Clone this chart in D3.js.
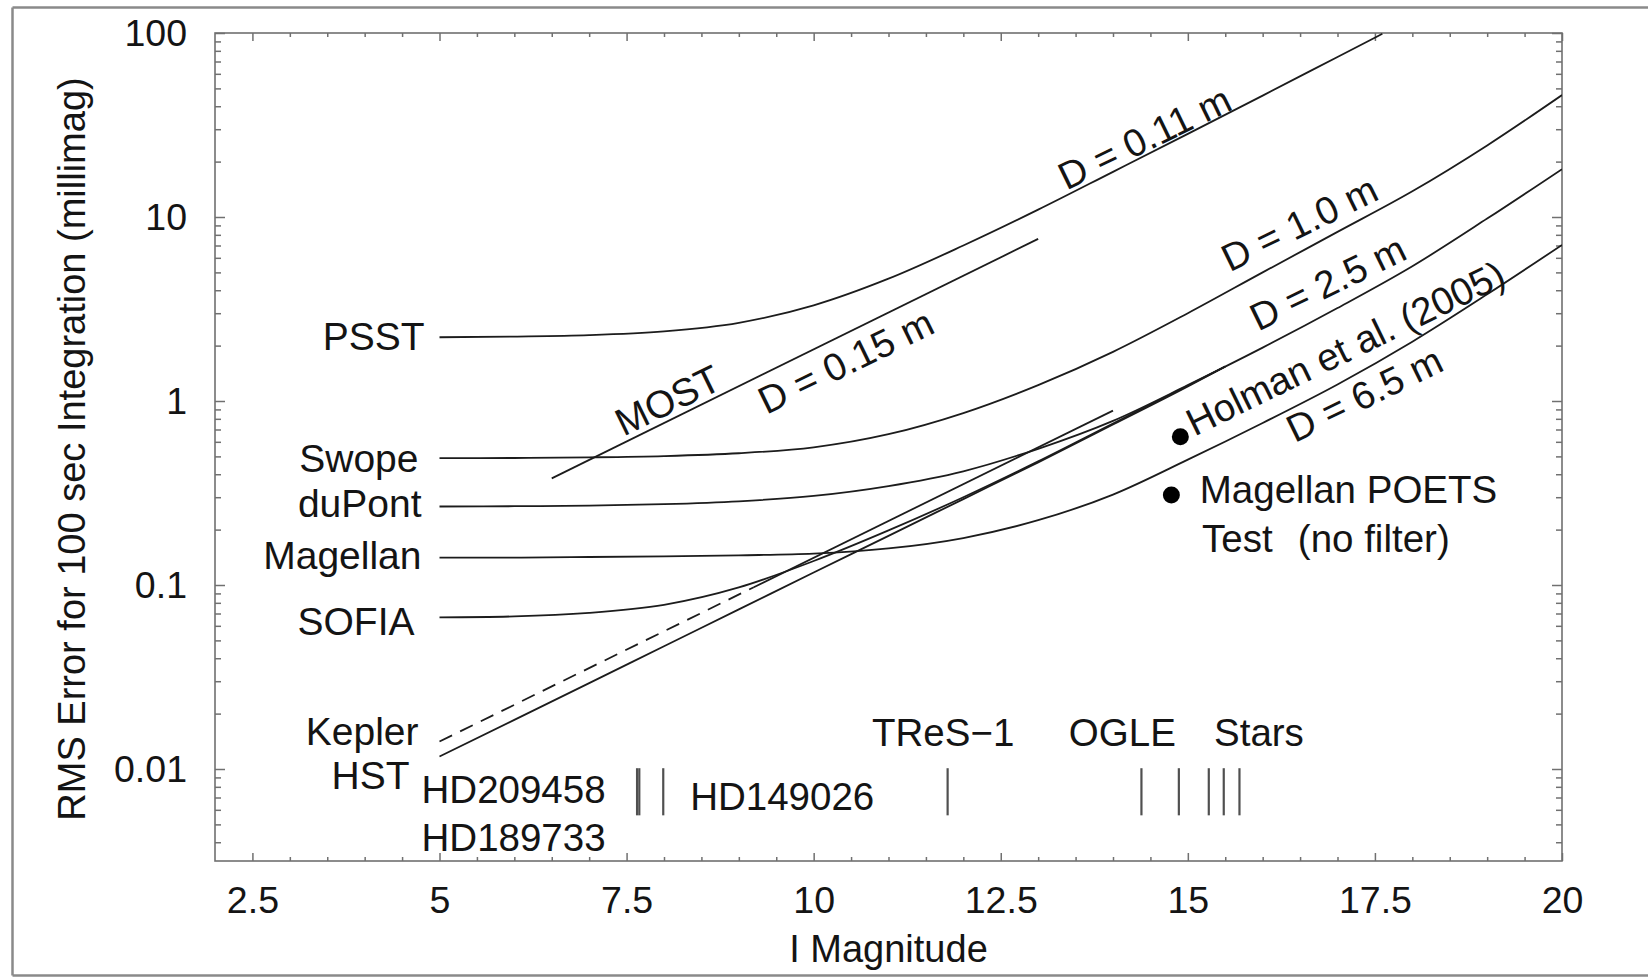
<!DOCTYPE html>
<html lang="en">
<head>
<meta charset="UTF-8">
<title>RMS Error vs I Magnitude</title>
<script src="https://cdn.jsdelivr.net/npm/d3@7"></script>
<style>
  body { margin: 0; background: #fff; }
  svg { display: block; font-family: "Liberation Sans", Arial, Helvetica, sans-serif; }
</style>
</head>
<body>
<svg id="chart"></svg>
<script>
// values: I magnitude -> RMS error (millimag)
var magGrid = [5, 6, 7, 8, 9, 10, 11, 12, 13, 14, 15, 16, 17, 18, 19, 20];

var psstMag = [5, 6, 7, 8, 9, 10, 11, 12, 13, 14, 15, 16, 17, 17.6];
var psstRms = [2.22, 2.24, 2.28, 2.39, 2.66, 3.31, 4.62, 7.0, 10.96, 17.6, 28.3, 45.7, 74.1, 99];

var swopeRms    = [0.489, 0.49, 0.494, 0.502, 0.52, 0.56, 0.66, 0.86, 1.22, 1.85, 3.0, 5.0, 8.3, 13.8, 24.5, 46];
var dupontRms   = [0.267, 0.268, 0.27, 0.275, 0.285, 0.305, 0.345, 0.415, 0.55, 0.78, 1.22, 1.95, 3.2, 5.4, 9.8, 18.2];
var magellanRms = [0.141, 0.141, 0.142, 0.143, 0.145, 0.148, 0.158, 0.18, 0.225, 0.31, 0.48, 0.76, 1.23, 2.1, 3.8, 7.05];

var sofiaMag = [5, 6, 7, 8, 9, 10, 11, 12, 13, 14, 15, 15.5];
var sofiaRms = [0.0667, 0.0675, 0.0705, 0.078, 0.097, 0.135, 0.198, 0.30, 0.47, 0.755, 1.21, 1.54];
var hstRms   = [0.0117, 0.0185, 0.0293, 0.0465, 0.0737, 0.117, 0.185, 0.293, 0.464, 0.745, 1.2, 1.54];

var keplerDashMag = [5, 9.2];
var keplerDashRms = [0.0141, 0.0973];
var keplerMag = [9.2, 14];
var keplerRms = [0.0973, 0.887];

var mostMag = [6.5, 13];
var mostRms = [0.38, 7.6];

// measured points
var pointNames = ["Holman et al. (2005)", "Magellan POETS"];
var pointMag = [14.9, 14.78];
var pointRms = [0.64, 0.308];

// transiting planet host stars (tick marks along the bottom)
var starMag = [7.64, 7.67, 7.99, 11.79, 14.38, 14.88, 15.28, 15.48, 15.69];

var xMajor = [2.5, 5, 7.5, 10, 12.5, 15, 17.5, 20];
var yMajor = [0.01, 0.1, 1, 10, 100];

var width = 1648, height = 977;
var svg = d3.select("#chart").attr("width", width).attr("height", height);

var x = d3.scaleLinear().domain([2, 20]).range([215, 1562]);
var y = d3.scaleLog().domain([Math.pow(10, -2.5), 100]).range([861, 33]);

function zip(a, b) { return a.map(function(d, i) { return [d, b[i]]; }); }

// outer frame of the figure
var frame = svg.append("g").attr("stroke", "#8a8a8a").attr("stroke-width", 2.5);
frame.append("line").attr("x1", 12.5).attr("x2", width).attr("y1", 7.5).attr("y2", 7.5);
frame.append("line").attr("x1", 12.5).attr("x2", 12.5).attr("y1", 7.5).attr("y2", 975.5);
frame.append("line").attr("x1", 12.5).attr("x2", width).attr("y1", 975.5).attr("y2", 975.5);

/* axes */
var xMinor = d3.range(2.5, 20, 0.5).filter(function(d) { return xMajor.indexOf(d) < 0; });
var yMinor = [];
[-3, -2, -1, 0, 1].forEach(function(e) {
  for (var k = 2; k <= 9; k++) {
    var v = k * Math.pow(10, e);
    if (v > y.domain()[0] && v < 100) yMinor.push(v);
  }
});

function styleAxis(g, fs) {
  g.select(".domain").remove();
  g.selectAll("line").attr("stroke", "#707070").attr("stroke-width", 1.5);
  g.selectAll("text").attr("fill", "#141414")
    .attr("font-size", fs).attr("font-family", "Liberation Sans, Arial, sans-serif");
}

svg.append("g").attr("transform", "translate(0,861)")
  .call(d3.axisBottom(x).tickValues(xMajor).tickSize(-8).tickSizeOuter(0).tickPadding(25)
        .tickFormat(d3.format("~g")))
  .call(styleAxis, 37.5);
svg.append("g").attr("transform", "translate(0,861)")
  .call(d3.axisBottom(x).tickValues(xMinor).tickSize(-4).tickSizeOuter(0).tickFormat(""))
  .call(styleAxis, 10);
svg.append("g").attr("transform", "translate(0,33)")
  .call(d3.axisTop(x).tickValues(xMajor).tickSize(-8).tickSizeOuter(0).tickFormat(""))
  .call(styleAxis, 10);
svg.append("g").attr("transform", "translate(0,33)")
  .call(d3.axisTop(x).tickValues(xMinor).tickSize(-4).tickSizeOuter(0).tickFormat(""))
  .call(styleAxis, 10);

svg.append("g").attr("transform", "translate(215,0)")
  .call(d3.axisLeft(y).tickValues(yMajor).tickSize(-10).tickSizeOuter(0).tickPadding(28)
        .tickFormat(d3.format("~g")))
  .call(styleAxis, 37.5);
svg.append("g").attr("transform", "translate(215,0)")
  .call(d3.axisLeft(y).tickValues(yMinor).tickSize(-6).tickSizeOuter(0).tickFormat(""))
  .call(styleAxis, 10);
svg.append("g").attr("transform", "translate(1562,0)")
  .call(d3.axisRight(y).tickValues(yMajor).tickSize(-10).tickSizeOuter(0).tickFormat(""))
  .call(styleAxis, 10);
svg.append("g").attr("transform", "translate(1562,0)")
  .call(d3.axisRight(y).tickValues(yMinor).tickSize(-6).tickSizeOuter(0).tickFormat(""))
  .call(styleAxis, 10);

svg.append("rect")
  .attr("x", x(2)).attr("y", y(100))
  .attr("width", x(20) - x(2)).attr("height", y.range()[0] - y(100))
  .attr("fill", "none").attr("stroke", "#707070").attr("stroke-width", 1.6);

svg.append("text").attr("x", (x(2) + x(20)) / 2).attr("y", 962)
  .attr("text-anchor", "middle").attr("font-size", 38).attr("fill", "#141414")
  .text("I Magnitude");
svg.append("text").attr("transform", "translate(85,449) rotate(-90)")
  .attr("text-anchor", "middle").attr("font-size", 38).attr("fill", "#141414")
  .text("RMS Error for 100 sec Integration (millimag)");

/* curves */
svg.append("clipPath").attr("id", "plotclip").append("rect")
  .attr("x", x(2)).attr("y", y(100))
  .attr("width", x(20) - x(2)).attr("height", y.range()[0] - y(100));

var series = [
  { name: "PSST",     pts: zip(psstMag, psstRms),       dash: null },
  { name: "MOST",     pts: zip(mostMag, mostRms),       dash: null },
  { name: "Swope",    pts: zip(magGrid, swopeRms),      dash: null },
  { name: "duPont",   pts: zip(magGrid, dupontRms),     dash: null },
  { name: "Magellan", pts: zip(magGrid, magellanRms),   dash: null },
  { name: "SOFIA",    pts: zip(sofiaMag, sofiaRms),     dash: null },
  { name: "HST",      pts: zip(sofiaMag, hstRms),       dash: null },
  { name: "KeplerB",  pts: zip(keplerDashMag, keplerDashRms), dash: "14,9" },
  { name: "Kepler",   pts: zip(keplerMag, keplerRms),   dash: null }
];

var line = d3.line()
  .x(function(d) { return x(d[0]); })
  .y(function(d) { return y(d[1]); })
  .curve(d3.curveMonotoneX);

svg.append("g").attr("clip-path", "url(#plotclip)")
  .selectAll("path").data(series).enter().append("path")
  .attr("d", function(d) { return line(d.pts); })
  .attr("fill", "none")
  .attr("stroke", "#1c1c1c")
  .attr("stroke-width", 1.8)
  .attr("stroke-dasharray", function(d) { return d.dash; });

// star ticks
svg.append("g").selectAll("line").data(starMag).enter().append("line")
  .attr("x1", function(d) { return x(d); }).attr("x2", function(d) { return x(d); })
  .attr("y1", y(0.0101)).attr("y2", y(0.0056))
  .attr("stroke", "#505050").attr("stroke-width", 2.2);

// measured points
svg.append("g").selectAll("circle").data(pointMag).enter().append("circle")
  .attr("cx", function(d) { return x(d); })
  .attr("cy", function(d, i) { return y(pointRms[i]); })
  .attr("r", 8.5).attr("fill", "#000");

/* labels */
var leftLabels = [
  { t: "PSST",     v: psstRms[0],       dx: 3,   dy: 13 },
  { t: "Swope",    v: swopeRms[0],      dx: -3,  dy: 14 },
  { t: "duPont",   v: dupontRms[0],     dx: 0,   dy: 10 },
  { t: "Magellan", v: magellanRms[0],   dx: 0,   dy: 11 },
  { t: "SOFIA",    v: sofiaRms[0],      dx: -7,  dy: 18 },
  { t: "Kepler",   v: keplerDashRms[0], dx: -3,  dy: 3 },
  { t: "HST",      v: hstRms[0],        dx: -12, dy: 33 }
];
svg.append("g").selectAll("text").data(leftLabels).enter().append("text")
  .attr("x", function(d) { return x(5) - 18 + d.dx; })
  .attr("y", function(d) { return y(d.v) + d.dy; })
  .attr("text-anchor", "end").attr("font-size", 39).attr("fill", "#141414")
  .text(function(d) { return d.t; });

var slopeLabels = [
  { t: "MOST",        m: 7.46,  v: 0.64 },
  { t: "D = 0.15 m",  m: 9.37,  v: 0.839 },
  { t: "D = 0.11 m",  m: 13.38, v: 13.9 },
  { t: "D = 1.0 m",   m: 15.56, v: 5.0 },
  { t: "D = 2.5 m",   m: 15.94, v: 2.38 },
  { t: pointNames[0], m: 15.09, v: 0.64 },
  { t: "D = 6.5 m",   m: 16.43, v: 0.589 }
];
svg.append("g").selectAll("text").data(slopeLabels).enter().append("text")
  .attr("transform", function(d) {
    return "translate(" + x(d.m) + "," + y(d.v) + ") rotate(-26)";
  })
  .attr("font-size", 38.5).attr("fill", "#141414")
  .text(function(d) { return d.t; });

var notes = [
  { t: "HD209458",     m: 4.76,  v: 0.00653 },
  { t: "HD189733",     m: 4.76,  v: 0.00358 },
  { t: "HD149026",     m: 8.35,  v: 0.00599 },
  { t: "TReS\u22121",  m: 10.78, v: 0.01334 },
  { t: "OGLE",         m: 13.41, v: 0.01334 },
  { t: "Stars",        m: 15.35, v: 0.01334 },
  { t: pointNames[1],  m: 15.16, v: 0.279 },
  { t: "Test",         m: 15.19, v: 0.1517 },
  { t: "(no filter)",  m: 16.47, v: 0.1517 }
];
svg.append("g").selectAll("text").data(notes).enter().append("text")
  .attr("x", function(d) { return x(d.m); })
  .attr("y", function(d) { return y(d.v); })
  .attr("font-size", 38.5).attr("fill", "#141414")
  .text(function(d) { return d.t; });
</script>
</body>
</html>
